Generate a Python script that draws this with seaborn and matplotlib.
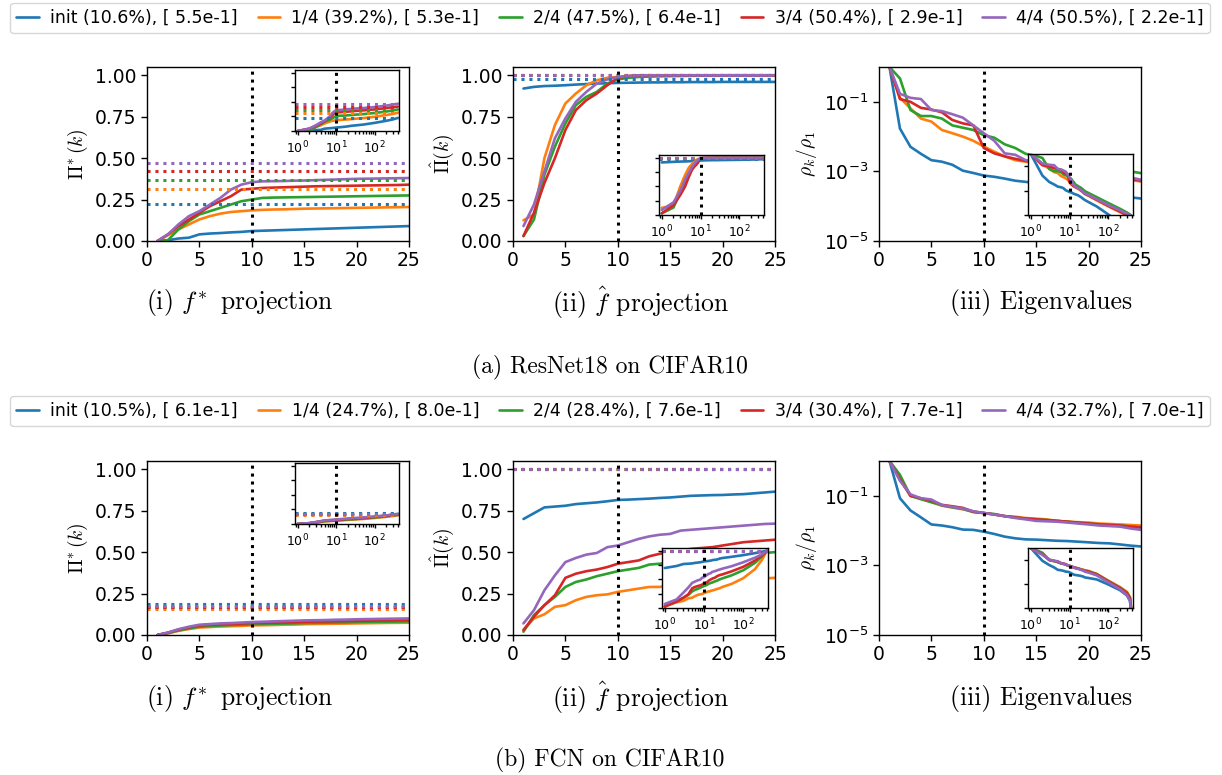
import matplotlib
matplotlib.use("Agg")
import matplotlib.pyplot as plt
from matplotlib.lines import Line2D
from matplotlib.ticker import NullLocator, FixedLocator
import numpy as np
import pandas as pd
import seaborn as sns

W, H = 1222, 775

RUNS = ["init", "1/4", "2/4", "3/4", "4/4"]
K_MAIN = list(range(1, 26))
K_TAIL = [30, 50, 100, 200, 300, 360, 400]

RES_LABELS = ["init (10.6%), [ 5.5e-1]", "1/4 (39.2%), [ 5.3e-1]", "2/4 (47.5%), [ 6.4e-1]",
              "3/4 (50.4%), [ 2.9e-1]", "4/4 (50.5%), [ 2.2e-1]"]
FCN_LABELS = ["init (10.5%), [ 6.1e-1]", "1/4 (24.7%), [ 8.0e-1]", "2/4 (28.4%), [ 7.6e-1]",
              "3/4 (30.4%), [ 7.7e-1]", "4/4 (32.7%), [ 7.0e-1]"]

# ---------------- ResNet18 on CIFAR10 ----------------
RES_PSTAR = [
    [0.0, 0.005, 0.015, 0.02, 0.04, 0.045, 0.048, 0.052, 0.055, 0.06, 0.062, 0.064, 0.066, 0.068, 0.07,
     0.072, 0.074, 0.076, 0.078, 0.08, 0.082, 0.084, 0.086, 0.088, 0.09],
    [0.0, 0.035, 0.07, 0.1, 0.13, 0.15, 0.165, 0.175, 0.18, 0.185, 0.188, 0.19, 0.191, 0.193, 0.195,
     0.196, 0.197, 0.198, 0.199, 0.2, 0.201, 0.202, 0.203, 0.204, 0.205],
    [0.0, 0.005, 0.07, 0.12, 0.16, 0.18, 0.2, 0.22, 0.24, 0.25, 0.26, 0.262, 0.263, 0.264, 0.265,
     0.266, 0.267, 0.268, 0.269, 0.27, 0.271, 0.272, 0.273, 0.274, 0.275],
    [0.0, 0.04, 0.09, 0.13, 0.17, 0.21, 0.24, 0.27, 0.31, 0.315, 0.32, 0.322, 0.324, 0.326, 0.328,
     0.33, 0.331, 0.332, 0.333, 0.334, 0.335, 0.336, 0.337, 0.338, 0.34],
    [0.0, 0.04, 0.1, 0.15, 0.18, 0.22, 0.26, 0.31, 0.34, 0.355, 0.36, 0.361, 0.362, 0.364, 0.365,
     0.367, 0.369, 0.371, 0.373, 0.375, 0.376, 0.377, 0.378, 0.379, 0.38],
]
RES_PSTAR_TAIL = [
    [0.095, 0.11, 0.14, 0.175, 0.2, 0.215, 0.225],
    [0.21, 0.222, 0.245, 0.275, 0.295, 0.307, 0.315],
    [0.28, 0.29, 0.31, 0.335, 0.355, 0.364, 0.37],
    [0.345, 0.355, 0.372, 0.395, 0.41, 0.416, 0.42],
    [0.385, 0.395, 0.412, 0.437, 0.455, 0.464, 0.47],
]
RES_PSTAR_LEVEL = [0.225, 0.315, 0.37, 0.42, 0.47]

RES_PHAT = [
    [0.92, 0.93, 0.935, 0.937, 0.94, 0.944, 0.947, 0.95, 0.952, 0.954, 0.955, 0.956, 0.957, 0.957, 0.958,
     0.958, 0.959, 0.959, 0.959, 0.96, 0.96, 0.96, 0.96, 0.96, 0.96],
    [0.125, 0.16, 0.5, 0.7, 0.83, 0.89, 0.94, 0.97, 0.985, 0.99, 0.995, 0.997, 0.998, 0.999, 1.0,
     1.0, 1.0, 1.0, 1.0, 1.0, 1.0, 1.0, 1.0, 1.0, 1.0],
    [0.03, 0.13, 0.4, 0.57, 0.71, 0.82, 0.87, 0.9, 0.95, 0.975, 0.985, 0.99, 0.992, 0.994, 0.995,
     0.996, 0.997, 0.998, 0.999, 1.0, 1.0, 1.0, 1.0, 1.0, 1.0],
    [0.03, 0.17, 0.35, 0.5, 0.67, 0.79, 0.85, 0.89, 0.94, 0.985, 0.995, 1.0, 1.0, 1.0, 1.0,
     1.0, 1.0, 1.0, 1.0, 1.0, 1.0, 1.0, 1.0, 1.0, 1.0],
    [0.09, 0.22, 0.42, 0.62, 0.74, 0.84, 0.9, 0.95, 0.975, 0.99, 0.995, 1.0, 1.0, 1.0, 1.0,
     1.0, 1.0, 1.0, 1.0, 1.0, 1.0, 1.0, 1.0, 1.0, 1.0],
]
RES_PHAT_TAIL = [
    [0.961, 0.963, 0.966, 0.97, 0.973, 0.975, 0.976],
    [1.0, 1.0, 1.0, 1.0, 1.0, 1.0, 1.0],
    [1.0, 1.0, 1.0, 1.0, 1.0, 1.0, 1.0],
    [1.0, 1.0, 1.0, 1.0, 1.0, 1.0, 1.0],
    [1.0, 1.0, 1.0, 1.0, 1.0, 1.0, 1.0],
]
RES_PHAT_LEVEL = [0.976, 1.0, 1.0, 1.0, 1.0]

RES_EIG = [
    [1.0, 0.017, 5.1e-3, 3.2e-3, 2.1e-3, 1.9e-3, 1.55e-3, 1.05e-3, 9e-4, 7.6e-4, 7e-4, 6.2e-4, 5.4e-4,
     5e-4, 4.6e-4, 4.3e-4, 3.9e-4, 3.5e-4, 3.1e-4, 2.8e-4, 2.5e-4, 2.2e-4, 2.0e-4, 1.8e-4, 1.66e-4],
    [1.0, 0.13, 0.065, 0.033, 0.027, 0.0155, 0.0125, 0.01, 0.0076, 0.0052, 0.0037, 0.0027, 0.0021,
     0.0019, 1.7e-3, 1.5e-3, 1.35e-3, 1.2e-3, 1.05e-3, 9.3e-4, 8.2e-4, 7.2e-4, 6.4e-4, 5.7e-4, 5.1e-4],
    [1.0, 0.47, 0.058, 0.039, 0.039, 0.033, 0.021, 0.018, 0.0155, 0.011, 0.0093, 0.006, 0.0047,
     0.0032, 2.8e-3, 2.5e-3, 2.2e-3, 2.0e-3, 1.8e-3, 1.6e-3, 1.4e-3, 1.25e-3, 1.1e-3, 1.0e-3, 8.9e-4],
    [1.0, 0.12, 0.1, 0.067, 0.06, 0.05, 0.03, 0.024, 0.021, 0.0047, 0.0033, 0.0027, 0.0023,
     0.002, 1.8e-3, 1.6e-3, 1.45e-3, 1.3e-3, 1.15e-3, 1.0e-3, 9e-4, 8e-4, 7e-4, 6.1e-4, 5.4e-4],
    [1.0, 0.17, 0.13, 0.12, 0.058, 0.054, 0.044, 0.035, 0.021, 0.0125, 0.0076, 0.0033, 0.003,
     0.0021, 1.9e-3, 1.7e-3, 1.5e-3, 1.35e-3, 1.2e-3, 1.07e-3, 9.5e-4, 8.5e-4, 7.5e-4, 6.6e-4, 5.8e-4],
]
RES_EIG_TAIL = [
    [1.2e-4, 5e-5, 1.1e-5, 2.5e-6, 9e-7, 5e-7, 3e-7],
    [3.9e-4, 1.6e-4, 5e-5, 1.7e-5, 9e-6, 6e-6, 4e-6],
    [6.6e-4, 2.9e-4, 9.5e-5, 3.2e-5, 1.6e-5, 1.1e-5, 8e-6],
    [4.2e-4, 1.8e-4, 5.6e-5, 1.9e-5, 1e-5, 7e-6, 5e-6],
    [4.6e-4, 2e-4, 6.5e-5, 2.4e-5, 1.3e-5, 9e-6, 6e-6],
]

# ---------------- FCN on CIFAR10 ----------------
FCN_PSTAR = [
    [0.0, 0.012, 0.028, 0.04, 0.05, 0.054, 0.057, 0.06, 0.062, 0.064, 0.066, 0.068, 0.07, 0.071, 0.072,
     0.073, 0.074, 0.075, 0.076, 0.077, 0.078, 0.079, 0.08, 0.081, 0.082],
    [0.0, 0.01, 0.025, 0.036, 0.045, 0.048, 0.051, 0.053, 0.055, 0.058, 0.059, 0.06, 0.062, 0.063, 0.065,
     0.066, 0.067, 0.068, 0.069, 0.07, 0.071, 0.072, 0.073, 0.0735, 0.074],
    [0.0, 0.012, 0.028, 0.04, 0.05, 0.054, 0.057, 0.06, 0.062, 0.065, 0.066, 0.068, 0.069, 0.07, 0.072,
     0.073, 0.074, 0.075, 0.076, 0.078, 0.079, 0.08, 0.08, 0.081, 0.082],
    [0.0, 0.014, 0.032, 0.046, 0.058, 0.061, 0.064, 0.066, 0.069, 0.072, 0.073, 0.074, 0.076, 0.077, 0.08,
     0.081, 0.082, 0.083, 0.084, 0.085, 0.086, 0.087, 0.088, 0.089, 0.09],
    [0.0, 0.015, 0.035, 0.05, 0.062, 0.066, 0.07, 0.072, 0.075, 0.078, 0.08, 0.082, 0.084, 0.086, 0.088,
     0.089, 0.09, 0.092, 0.093, 0.095, 0.096, 0.097, 0.098, 0.099, 0.1],
]
FCN_PSTAR_TAIL = [
    [0.088, 0.1, 0.12, 0.145, 0.162, 0.17, 0.175],
    [0.077, 0.087, 0.104, 0.124, 0.138, 0.145, 0.15],
    [0.085, 0.096, 0.113, 0.133, 0.147, 0.154, 0.158],
    [0.093, 0.104, 0.121, 0.14, 0.153, 0.159, 0.163],
    [0.103, 0.113, 0.13, 0.148, 0.16, 0.166, 0.17],
]
FCN_PSTAR_LEVEL = [0.19, 0.154, 0.166, 0.17, 0.178]

FCN_PHAT = [
    [0.70, 0.735, 0.77, 0.775, 0.78, 0.79, 0.795, 0.8, 0.807, 0.815, 0.817, 0.82, 0.823, 0.827, 0.83,
     0.835, 0.84, 0.842, 0.844, 0.845, 0.848, 0.85, 0.855, 0.86, 0.865],
    [0.03, 0.1, 0.125, 0.17, 0.18, 0.21, 0.23, 0.24, 0.245, 0.26, 0.27, 0.28, 0.29, 0.29, 0.3,
     0.305, 0.31, 0.315, 0.32, 0.325, 0.33, 0.335, 0.338, 0.342, 0.345],
    [0.02, 0.12, 0.18, 0.23, 0.29, 0.32, 0.335, 0.355, 0.37, 0.385, 0.395, 0.405, 0.425, 0.43, 0.44,
     0.445, 0.45, 0.46, 0.465, 0.47, 0.475, 0.48, 0.49, 0.495, 0.5],
    [0.03, 0.11, 0.18, 0.24, 0.345, 0.37, 0.385, 0.395, 0.41, 0.43, 0.44, 0.45, 0.475, 0.49, 0.5,
     0.51, 0.52, 0.525, 0.53, 0.54, 0.55, 0.56, 0.565, 0.57, 0.575],
    [0.07, 0.15, 0.27, 0.36, 0.44, 0.465, 0.485, 0.495, 0.53, 0.54, 0.56, 0.58, 0.595, 0.605, 0.61,
     0.63, 0.635, 0.64, 0.645, 0.65, 0.655, 0.66, 0.665, 0.67, 0.672],
]
FCN_PHAT_TAIL = [
    [0.875, 0.895, 0.925, 0.96, 0.985, 0.995, 1.0],
    [0.37, 0.42, 0.52, 0.68, 0.84, 0.94, 1.0],
    [0.52, 0.57, 0.66, 0.79, 0.9, 0.96, 1.0],
    [0.59, 0.64, 0.72, 0.83, 0.92, 0.97, 1.0],
    [0.69, 0.73, 0.8, 0.88, 0.94, 0.98, 1.0],
]
FCN_PHAT_LEVEL = [1.0, 1.0, 1.0, 1.0, 1.0]

FCN_EIG = [
    [1.0, 0.085, 0.038, 0.024, 0.015, 0.014, 0.0125, 0.0107, 0.0105, 0.0093, 0.008, 0.0067, 0.006,
     0.0056, 0.0055, 0.0053, 0.0051, 0.005, 0.0048, 0.0046, 0.0044, 0.0043, 0.004, 0.0037, 0.0035],
    [1.0, 0.3, 0.1, 0.082, 0.07, 0.052, 0.046, 0.041, 0.035, 0.032, 0.029, 0.026, 0.025, 0.023, 0.022,
     0.021, 0.019, 0.018, 0.0175, 0.017, 0.016, 0.0155, 0.015, 0.0145, 0.014],
    [1.0, 0.4, 0.1, 0.08, 0.065, 0.053, 0.047, 0.042, 0.034, 0.032, 0.03, 0.026, 0.024, 0.022, 0.021,
     0.02, 0.019, 0.018, 0.0165, 0.016, 0.015, 0.0145, 0.014, 0.013, 0.0125],
    [1.0, 0.3, 0.1, 0.085, 0.072, 0.055, 0.05, 0.045, 0.035, 0.032, 0.029, 0.026, 0.024, 0.022, 0.021,
     0.02, 0.019, 0.018, 0.017, 0.016, 0.015, 0.0145, 0.014, 0.013, 0.0122],
    [1.0, 0.27, 0.11, 0.085, 0.078, 0.054, 0.048, 0.043, 0.036, 0.032, 0.029, 0.026, 0.023, 0.021, 0.019,
     0.0185, 0.018, 0.017, 0.016, 0.015, 0.014, 0.0135, 0.013, 0.0115, 0.0105],
]
FCN_EIG_TAIL = [
    [3.2e-3, 2.4e-3, 9e-4, 3e-4, 1.1e-4, 4e-5, 1.5e-6],
    [0.0125, 7e-3, 1.9e-3, 5.5e-4, 2.2e-4, 8e-5, 3e-6],
    [0.0115, 6.5e-3, 1.7e-3, 4.8e-4, 1.9e-4, 7e-5, 2.5e-6],
    [0.0112, 6.2e-3, 1.6e-3, 4.5e-4, 1.7e-4, 6e-5, 2e-6],
    [0.0092, 5.2e-3, 1.35e-3, 3.6e-4, 1.2e-4, 4e-5, 1.5e-6],
]

# ---------------- style ----------------
sns.set_theme(style="ticks", rc={
    "axes.edgecolor": "black", "axes.labelcolor": "black", "text.color": "black",
    "xtick.color": "black", "ytick.color": "black", "axes.linewidth": 1.0,
    "xtick.major.width": 1.0, "ytick.major.width": 1.0,
    "axes.spines.top": True, "axes.spines.right": True,
})
plt.rcParams["font.family"] = ["DejaVu Sans"]
plt.rcParams["mathtext.fontset"] = "dejavusans"

PALETTE = sns.color_palette("tab10", 5)
LW = 1.9
TICK_FS = 13.5
INSET_FS = 9

fig = plt.figure(figsize=(W / 100, H / 100), dpi=100)


def px_axes(x, y, w, h):
    return fig.add_axes([x / W, 1 - (y + h) / H, w / W, h / H])


def long_frame(ks, series):
    rows = []
    for run, vals in zip(RUNS, series):
        for k, v in zip(ks, vals):
            rows.append((k, v, run))
    return pd.DataFrame(rows, columns=["k", "value", "run"])


def draw_lines(ax, ks, series, levels):
    df = long_frame(ks, series)
    sns.lineplot(data=df, x="k", y="value", hue="run", hue_order=RUNS, palette=PALETTE,
                 linewidth=LW, legend=False, ax=ax)
    if levels is not None:
        for c, lev in zip(PALETTE, levels):
            ax.axhline(lev, color=c, ls=(0, (1, 1.6)), lw=2.2)
    ax.axvline(10, color="black", ls=(0, (1, 1.6)), lw=2.2)
    ax.set_xlabel("")
    ax.set_ylabel("")


def panel(main_box, inset_box, series, tail, levels, kind, ylabel):
    ax = px_axes(*main_box)
    draw_lines(ax, K_MAIN, series, levels)
    ax.set_xlim(0, 25)
    ax.set_xticks([0, 5, 10, 15, 20, 25])
    if kind == "eig":
        ax.set_yscale("log")
        ax.set_ylim(1e-5, 1)
        ax.yaxis.set_major_locator(FixedLocator([1e-5, 1e-3, 1e-1]))
        ax.yaxis.set_minor_locator(NullLocator())
    else:
        ax.set_ylim(0, 1.05)
        ax.set_yticks([0, 0.25, 0.5, 0.75, 1.0])
    ax.tick_params(labelsize=TICK_FS, length=4)
    ax.set_ylabel(ylabel, fontsize=14, math_fontfamily="cm")

    ins = px_axes(*inset_box)
    full = [m + t for m, t in zip(series, tail)]
    draw_lines(ins, K_MAIN + K_TAIL, full, levels)
    ins.set_xscale("log")
    ins.set_xlim(0.85, 430)
    if kind == "eig":
        ins.set_yscale("log")
        ins.set_ylim(1e-5, 1)
        ins.yaxis.set_major_locator(FixedLocator([1e-5, 1e-3, 1e-1]))
        ins.yaxis.set_minor_locator(NullLocator())
    else:
        ins.set_ylim(0, 1.05)
        ins.set_yticks([0, 0.25, 0.5, 0.75, 1.0])
    ins.tick_params(labelleft=False, labelsize=INSET_FS, length=3, pad=3)
    ins.tick_params(which="minor", length=2)
    return ax


# main axes boxes (x, y, w, h) in pixels from top-left
LEFTS = [147, 513, 879]
AX_W, AX_H = 262, 174
ROW_TOP = [67, 461]

YLAB = [r"$\Pi^{\!*}(k)$", r"$\hat{\Pi}(k)$", r"$\rho_k/\rho_1$"]

res_data = [(RES_PSTAR, RES_PSTAR_TAIL, RES_PSTAR_LEVEL, "pstar"),
            (RES_PHAT, RES_PHAT_TAIL, RES_PHAT_LEVEL, "phat"),
            (RES_EIG, RES_EIG_TAIL, None, "eig")]
fcn_data = [(FCN_PSTAR, FCN_PSTAR_TAIL, FCN_PSTAR_LEVEL, "pstar"),
            (FCN_PHAT, FCN_PHAT_TAIL, FCN_PHAT_LEVEL, "phat"),
            (FCN_EIG, FCN_EIG_TAIL, None, "eig")]

INSETS = [
    [(295, 70, 104, 61), (659, 155, 105, 60), (1028, 154, 105, 61)],
    [(295, 463, 104, 61), (662, 548, 106, 60), (1028, 548, 105, 60)],
]

for r, data in enumerate([res_data, fcn_data]):
    for c, (series, tail, levels, kind) in enumerate(data):
        panel((LEFTS[c], ROW_TOP[r], AX_W, AX_H), INSETS[r][c], series, tail, levels, kind, YLAB[c])

# legends
for labels, top in [(RES_LABELS, 3), (FCN_LABELS, 396)]:
    handles = [Line2D([], [], color=c, lw=LW) for c in PALETTE]
    fig.legend(handles, labels, loc="upper center", ncol=5,
               bbox_to_anchor=(610 / W, 1 - top / H),
               fontsize=12.5, handlelength=1.3, handletextpad=0.65, columnspacing=1.15,
               borderaxespad=0, borderpad=0.35, frameon=True, fancybox=True)

# captions
SUB = [r"(i) $f^{\!*}$ projection", r"(ii) $\hat{f}$ projection", r"(iii) Eigenvalues"]
SUB_X = [240, 641, 1041]
for r, yc in enumerate([303, 698]):
    for s, x in zip(SUB, SUB_X):
        fig.text(x / W, 1 - yc / H, s, ha="center", va="center", fontsize=18.5,
                 family="cmr10", math_fontfamily="cm")
for s, yc in [("(a) ResNet18 on CIFAR10", 367), ("(b) FCN on CIFAR10", 760)]:
    fig.text(610 / W, 1 - yc / H, s, ha="center", va="center", fontsize=17,
             family="cmr10", math_fontfamily="cm")

fig.savefig("out.png", dpi=100, facecolor="white")
